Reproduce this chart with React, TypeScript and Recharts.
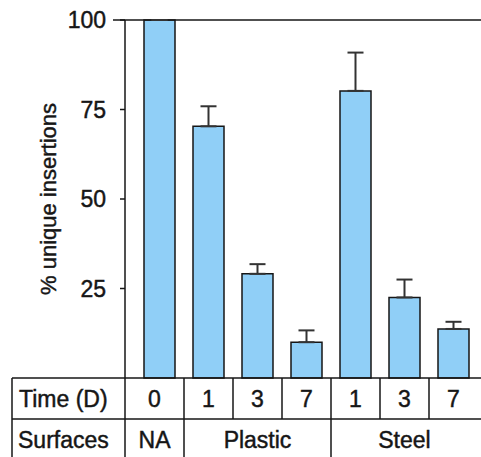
import { BarChart, Bar, XAxis, YAxis, ErrorBar, ReferenceLine } from 'recharts';

const times = ['0', '1', '3', '7', '1', '3', '7'];
const surfaces = ['NA', 'Plastic', 'Plastic', 'Plastic', 'Steel', 'Steel', 'Steel'];
const insertions = [100, 70.3, 29.1, 10, 80.2, 22.5, 13.7];
const upperErr = [0, 5.6, 2.7, 3.3, 10.7, 5, 2];
const yTicks = [25, 50, 75, 100];

const data = times.map((t, i) => ({
  key: `${surfaces[i]}-${t}`,
  time: t,
  surface: surfaces[i],
  value: insertions[i],
  err: [0, upperErr[i]],
}));

const W = 481;
const H = 457;
const TOP = 20;
const AXIS_W = 125;
const TABLE_H = 79;
const ROW1_H = 41;
const PAD_LEFT = 10;
const TABLE_LEFT = 12;
const FONT = '"Liberation Sans", Arial, Helvetica, sans-serif';
const INK = '#161616';
const textStyle = { fontSize: 23, fontFamily: FONT, fill: INK, stroke: INK, strokeWidth: 0.45 };

// group span (first/last index) for each surface label
function groupRange(i: number) {
  let a = i;
  let b = i;
  while (a > 0 && surfaces[a - 1] === surfaces[i]) a--;
  while (b < surfaces.length - 1 && surfaces[b + 1] === surfaces[i]) b++;
  return [a, b];
}

function TableTick(props: any) {
  const { x, y, payload } = props;
  const i: number = payload.index;
  const half: number = payload.offset || 24.5;
  const band = half * 2;
  const left = i === 0 ? x - half - PAD_LEFT : x - half;
  const right = x + half;
  const lastInGroup = i === surfaces.length - 1 || surfaces[i + 1] !== surfaces[i];
  const [ga, gb] = groupRange(i);
  const showGroup = i === Math.floor((ga + gb) / 2);
  const gLeft = ga === 0 ? x - (i - ga) * band - half - PAD_LEFT : x - (i - ga) * band - half;
  const gRight = x + (gb - i) * band + half;
  return (
    <g>
      <text x={(left + right) / 2} y={y + ROW1_H / 2} textAnchor="middle" dominantBaseline="central" {...textStyle}>
        {data[i].time}
      </text>
      {i < surfaces.length - 1 && (
        <line
          x1={right}
          x2={right}
          y1={y}
          y2={lastInGroup ? y + TABLE_H : y + ROW1_H}
          stroke={INK}
          strokeWidth={1.5}
        />
      )}
      {showGroup && (
        <text
          x={(gLeft + gRight) / 2}
          y={y + ROW1_H + (TABLE_H - ROW1_H) / 2 + 2}
          textAnchor="middle"
          dominantBaseline="central"
          {...textStyle}
        >
          {data[i].surface}
        </text>
      )}
    </g>
  );
}

// y tick label; the top tick runs further left to meet the frame line
function ValueTick(props: any) {
  const { x, y, payload } = props;
  return (
    <g>
      {payload.value === 100 && <line x1={x + 7} x2={x + 19} y1={y} y2={y} stroke={INK} strokeWidth={1.5} />}
      <text x={x} y={y} textAnchor="end" dominantBaseline="central" {...textStyle}>
        {payload.value}
      </text>
    </g>
  );
}

export default function App() {
  const plotBottom = H - TABLE_H;
  return (
    <div style={{ position: 'absolute', left: 0, top: 0, width: W, height: H, background: '#fff' }}>
      <BarChart width={W} height={H} data={data} margin={{ top: TOP, right: 0, bottom: 0, left: 0 }}>
        <XAxis
          dataKey="key"
          height={TABLE_H}
          padding={{ left: PAD_LEFT, right: 3 }}
          axisLine={false}
          tickLine={false}
          tickSize={0}
          tickMargin={0}
          interval={0}
          tick={<TableTick />}
        />
        <YAxis
          width={AXIS_W}
          domain={[0, 100]}
          ticks={yTicks}
          interval={0}
          axisLine={{ stroke: INK, strokeWidth: 1.5 }}
          tickLine={{ stroke: INK, strokeWidth: 1.5 }}
          tickSize={5}
          tickMargin={14}
          tick={<ValueTick />}
        />
        <ReferenceLine y={100} stroke={INK} strokeWidth={1.5} />
        <Bar
          dataKey="value"
          fill="#90cff7"
          stroke={INK}
          strokeWidth={1.5}
          barSize={31}
          isAnimationActive={false}
        >
          <ErrorBar dataKey="err" width={8} stroke="#333" strokeWidth={2} direction="y" />
        </Bar>
      </BarChart>
      <svg width={W} height={H} style={{ position: 'absolute', left: 0, top: 0, pointerEvents: 'none' }}>
        <text
          transform={`translate(48, ${(TOP + plotBottom) / 2}) rotate(-90)`}
          textAnchor="middle"
          dominantBaseline="central"
          {...textStyle}
          fontSize={22}
        >
          % unique insertions
        </text>
        <line x1={TABLE_LEFT} x2={W} y1={plotBottom} y2={plotBottom} stroke={INK} strokeWidth={1.5} />
        <line x1={TABLE_LEFT} x2={W} y1={plotBottom + ROW1_H} y2={plotBottom + ROW1_H} stroke={INK} strokeWidth={1.5} />
        <line x1={TABLE_LEFT} x2={TABLE_LEFT} y1={plotBottom} y2={H} stroke={INK} strokeWidth={1.5} />
        <line x1={AXIS_W} x2={AXIS_W} y1={plotBottom} y2={H} stroke={INK} strokeWidth={1.5} />
        <text x={19} y={plotBottom + ROW1_H / 2} dominantBaseline="central" {...textStyle}>
          Time (D)
        </text>
        <text x={18} y={plotBottom + ROW1_H + (TABLE_H - ROW1_H) / 2 + 2} dominantBaseline="central" {...textStyle}>
          Surfaces
        </text>
      </svg>
    </div>
  );
}
